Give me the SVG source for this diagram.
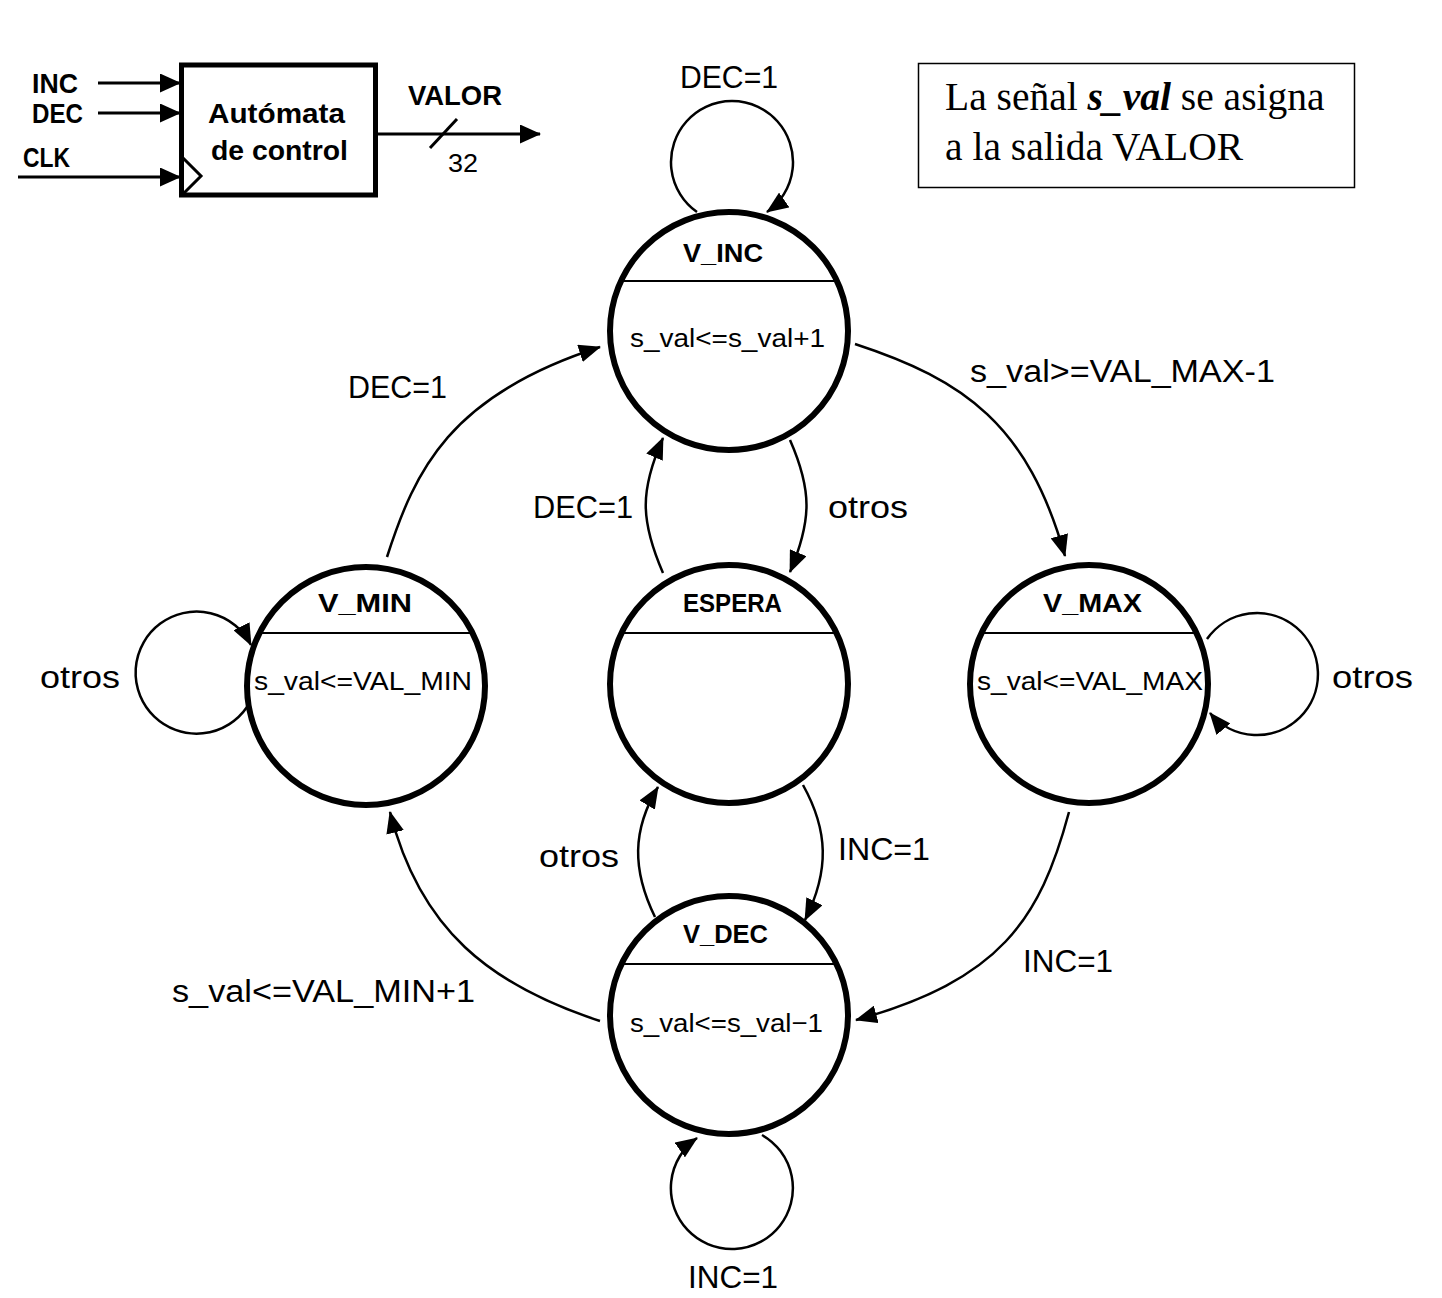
<svg xmlns="http://www.w3.org/2000/svg" width="1442" height="1298" viewBox="0 0 1442 1298">
<style>
.st{fill:#fff;stroke:#000;stroke-width:6}
.div{stroke:#000;stroke-width:2}
.ttl{font-family:"Liberation Sans",Arial,sans-serif;font-weight:bold;font-size:26px;fill:#000}
.body{font-family:"Liberation Sans",Arial,sans-serif;font-size:26px;fill:#000}
.lbl{font-family:"Liberation Sans",Arial,sans-serif;font-size:31px;fill:#000}
.blbl{font-family:"Liberation Sans",Arial,sans-serif;font-weight:bold;font-size:27px;fill:#000}
.edge{fill:none;stroke:#000;stroke-width:2.5;marker-end:url(#ah)}
.wire{fill:none;stroke:#000;stroke-width:3}
.note{font-family:"Liberation Serif","Times New Roman",serif;font-size:39.5px;fill:#000}
</style>
<defs>
<marker id="ah" markerUnits="userSpaceOnUse" markerWidth="22" markerHeight="18" viewBox="0 0 22 18" refX="21" refY="9" orient="auto">
<path d="M0,0 L22,9 L0,18 z" fill="#000"/>
</marker>
<marker id="blk" markerUnits="userSpaceOnUse" markerWidth="21" markerHeight="19" viewBox="0 0 21 19" refX="20" refY="9.5" orient="auto">
<path d="M0,0 L21,9.5 L0,19 z" fill="#000"/>
</marker>
</defs>
<rect width="1442" height="1298" fill="#fff"/>

<g id="block">
<rect x="181.5" y="65" width="194" height="130" fill="#fff" stroke="#000" stroke-width="5"/>
<polyline points="181,156 201,176 181,196" class="wire"/>
<line x1="98" y1="83" x2="180" y2="83" class="wire" marker-end="url(#blk)"/>
<line x1="98" y1="113" x2="180" y2="113" class="wire" marker-end="url(#blk)"/>
<line x1="18" y1="177" x2="180" y2="177" class="wire" marker-end="url(#blk)"/>
<line x1="378" y1="134" x2="540" y2="134" class="wire" marker-end="url(#blk)"/>
<line x1="430" y1="148" x2="457" y2="119" class="wire"/>
<text x="32" y="93" class="blbl" textLength="46" lengthAdjust="spacingAndGlyphs">INC</text>
<text x="32" y="123" class="blbl" textLength="51" lengthAdjust="spacingAndGlyphs">DEC</text>
<text x="23" y="167" class="blbl" textLength="47" lengthAdjust="spacingAndGlyphs">CLK</text>
<text x="208" y="123" class="blbl" textLength="137" lengthAdjust="spacingAndGlyphs">Autómata</text>
<text x="211" y="160" class="blbl" textLength="137" lengthAdjust="spacingAndGlyphs">de control</text>
<text x="408" y="105" class="blbl" textLength="94" lengthAdjust="spacingAndGlyphs">VALOR</text>
<text x="448" y="172" class="body" font-size="27" textLength="30" lengthAdjust="spacingAndGlyphs">32</text>
</g>

<g id="note">
<rect x="918.5" y="63.5" width="436" height="124" fill="#fff" stroke="#000" stroke-width="1.5"/>
<text x="945" y="110" class="note">La señal <tspan font-weight="bold" font-style="italic">s_val</tspan> se asigna</text>
<text x="945" y="160" class="note">a la salida VALOR</text>
</g>

<g id="connectors">
<path class="edge" d="M697,212 A61,61 0 1 1 767,212"/>
<path class="edge" d="M247,707 A61,61 0 1 1 251,645"/>
<path class="edge" d="M1207,639 A61,61 0 1 1 1210,713"/>
<path class="edge" d="M762,1135 A61,61 0 1 1 697,1138"/>
<path class="edge" d="M855,344 C965,380 1028,425 1065,556"/>
<path class="edge" d="M387,557 C415,470 450,395 600,347"/>
<path class="edge" d="M600,1021 C490,985 420,930 390,812"/>
<path class="edge" d="M1069,812 C1040,920 1000,980 856,1020"/>
<path class="edge" d="M663,573 C640,520 640,490 663,438"/>
<path class="edge" d="M790,440 C812,490 812,520 790,572"/>
<path class="edge" d="M655,917 C632,870 632,830 658,787"/>
<path class="edge" d="M803,785 C828,830 830,870 805,920"/>
<text x="680" y="88" class="lbl" textLength="98" lengthAdjust="spacingAndGlyphs">DEC=1</text>
<text x="348" y="398" class="lbl" textLength="99" lengthAdjust="spacingAndGlyphs">DEC=1</text>
<text x="970" y="382" class="lbl" textLength="305" lengthAdjust="spacingAndGlyphs">s_val&gt;=VAL_MAX-1</text>
<text x="533" y="518" class="lbl" textLength="100" lengthAdjust="spacingAndGlyphs">DEC=1</text>
<text x="828" y="518" class="lbl" textLength="80" lengthAdjust="spacingAndGlyphs">otros</text>
<text x="539" y="867" class="lbl" textLength="80" lengthAdjust="spacingAndGlyphs">otros</text>
<text x="838" y="860" class="lbl" textLength="92" lengthAdjust="spacingAndGlyphs">INC=1</text>
<text x="40" y="688" class="lbl" textLength="80" lengthAdjust="spacingAndGlyphs">otros</text>
<text x="1332" y="688" class="lbl" textLength="81" lengthAdjust="spacingAndGlyphs">otros</text>
<text x="1023" y="972" class="lbl" textLength="90" lengthAdjust="spacingAndGlyphs">INC=1</text>
<text x="172" y="1002" class="lbl" textLength="303" lengthAdjust="spacingAndGlyphs">s_val&lt;=VAL_MIN+1</text>
<text x="688" y="1288" class="lbl" textLength="90" lengthAdjust="spacingAndGlyphs">INC=1</text>
</g>

<g id="V_INC">
<circle cx="729" cy="331" r="119" class="st"/>
<line x1="621" y1="281" x2="837" y2="281" class="div"/>
<text x="683" y="262" class="ttl" textLength="80" lengthAdjust="spacingAndGlyphs">V_INC</text>
<text x="630" y="347" class="body" textLength="195" lengthAdjust="spacingAndGlyphs">s_val&lt;=s_val+1</text>
</g>

<g id="ESPERA">
<circle cx="729" cy="684" r="119" class="st"/>
<line x1="621" y1="633" x2="837" y2="633" class="div"/>
<text x="683" y="612" class="ttl" textLength="99" lengthAdjust="spacingAndGlyphs">ESPERA</text>
</g>

<g id="V_MIN">
<circle cx="366" cy="686" r="119" class="st"/>
<line x1="258" y1="633" x2="474" y2="633" class="div"/>
<text x="318" y="612" class="ttl" textLength="94" lengthAdjust="spacingAndGlyphs">V_MIN</text>
<text x="254" y="690" class="body" textLength="218" lengthAdjust="spacingAndGlyphs">s_val&lt;=VAL_MIN</text>
</g>

<g id="V_MAX">
<circle cx="1089" cy="684" r="119" class="st"/>
<line x1="981" y1="633" x2="1197" y2="633" class="div"/>
<text x="1043" y="612" class="ttl" textLength="99" lengthAdjust="spacingAndGlyphs">V_MAX</text>
<text x="977" y="690" class="body" textLength="226" lengthAdjust="spacingAndGlyphs">s_val&lt;=VAL_MAX</text>
</g>

<g id="V_DEC">
<circle cx="729" cy="1015" r="119" class="st"/>
<line x1="621" y1="964" x2="837" y2="964" class="div"/>
<text x="683" y="943" class="ttl" textLength="85" lengthAdjust="spacingAndGlyphs">V_DEC</text>
<text x="630" y="1032" class="body" textLength="193" lengthAdjust="spacingAndGlyphs">s_val&lt;=s_val−1</text>
</g>
</svg>
